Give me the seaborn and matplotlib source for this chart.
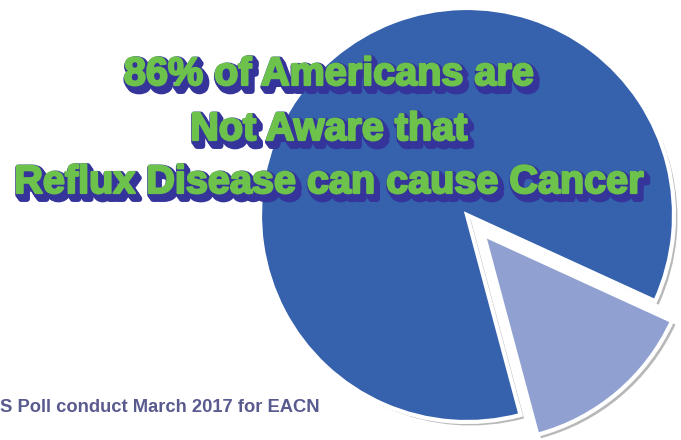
import matplotlib
matplotlib.use("Agg")
import matplotlib.pyplot as plt
import matplotlib.patheffects as pe
import seaborn as sns

# poll answers (percent)
labels = ["Aware", "Not Aware"]
shares = [14, 86]
slice_colors = ["#8fa0d1", "#3561ad"]
explode_px = [26, 0]

title_lines = [
    "86% of Americans are",
    "Not Aware that",
    "Reflux Disease can cause Cancer",
]
source_note = "S Poll conduct March 2017 for EACN"

W, H = 681, 440

sns.set_style("white")
plt.rcParams["font.family"] = ["Liberation Sans", "DejaVu Sans"]

fig = plt.figure(figsize=(W / 100, H / 100), dpi=100)
ax = fig.add_axes([0, 0, 1, 1])

# pie laid out in pixel units (y up)
wedges, _ = ax.pie(
    shares,
    labels=None,
    colors=slice_colors,
    explode=explode_px,
    startangle=-75,
    counterclock=True,
    center=(467, H - 215),
    radius=207,
    wedgeprops=dict(edgecolor="white", linewidth=3),
)
for w in wedges:
    w.set_path_effects([
        pe.SimplePatchShadow(offset=(2.5, -2.5), shadow_rgbFace="#8a8a8a", alpha=0.6),
        pe.Normal(),
    ])

ax.set_xlim(0, W)
ax.set_ylim(0, H)
ax.set_aspect("equal")
ax.axis("off")

green = "#6dc24b"
shadow = "#34349a"
title_fx = [
    pe.Stroke(linewidth=4.5, foreground=shadow, offset=(3.0, -4.2)),
    pe.Stroke(linewidth=4.5, foreground=shadow, offset=(2.0, -2.8)),
    pe.Stroke(linewidth=4.5, foreground=shadow, offset=(1.0, -1.4)),
    pe.Stroke(linewidth=1.6, foreground=green),
    pe.Normal(),
]
for line, base in zip(title_lines, [85, 140, 193]):
    ax.text(329, H - base, line, ha="center", va="baseline",
            fontsize=28.5, fontweight="bold", color=green,
            path_effects=title_fx, zorder=5)

ax.text(0, H - 412, source_note, ha="left", va="baseline",
        fontsize=13.2, fontweight="bold", color="#595a8e", zorder=5)

fig.savefig("out.png", dpi=100)
